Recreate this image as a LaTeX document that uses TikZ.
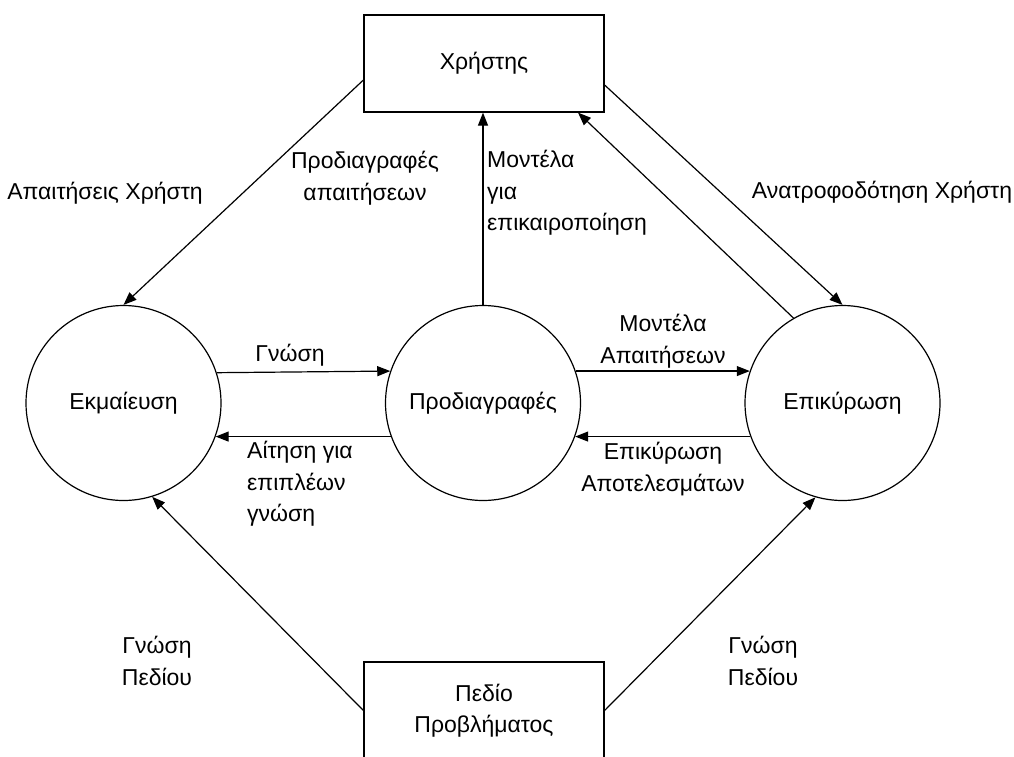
\documentclass[tikz,border=0pt]{standalone}
\usepackage{fontspec}
\setmainfont{Liberation Sans}
\usetikzlibrary{arrows.meta}
\begin{document}
\begin{tikzpicture}[x=1pt,y=-1pt,
  every node/.style={font=\fontsize{23}{31.5}\selectfont},
  proc/.style={draw,circle,line width=1.2pt,minimum size=195pt,inner sep=0pt},
  ent/.style={draw,rectangle,line width=1.2pt,minimum width=240pt,minimum height=97pt,inner sep=0pt,align=center},
  lbl/.style={inner sep=0pt,align=center},
  flow/.style={line width=1.2pt,-{Triangle[length=13pt,width=10pt]}}]
\clip (0,0) rectangle (1014,756);
\fill[white] (0,0) rectangle (1014,756);
% entities
\node[ent] (user) at (484,63.5) {Χρήστης};
\node[ent] (dom) at (484,710.5) {Πεδίο\\Προβλήματος};
% processes
\node[proc] (e) at (123.5,403) {Εκμαίευση};
\node[proc] (p) at (483,403) {Προδιαγραφές};
\node[proc] (v) at (842.5,403) {Επικύρωση};
% connectors
\draw[flow] ([yshift=-16.5pt]user.west) -- (e.90);
\draw[flow] (p.north) -- (p.north |- user.south);
\draw[flow] (v.120) -- ([xshift=94pt]user.south);
\draw[flow] ([yshift=-21.5pt]user.east) -- (v.90);
\draw[flow] (e.18.5) -- (p.161.5);
\draw[flow] (p.-160) -- (e.-20);
\draw[flow] (p.19) -- (v.161);
\draw[flow] (v.-160) -- (p.-20);
\draw[flow] (dom.west) -- (e.-73);
\draw[flow] (dom.east) -- (v.-106);
% labels
\node[lbl] (l1) at (105,193) {Απαιτήσεις Χρήστη};
\node[lbl] (l2) at (365,178) {Προδιαγραφές\\απαιτήσεων};
\node[lbl,align=left,anchor=west] (l3) at (487,193) {Μοντέλα\\για\\επικαιροποίηση};
\node[lbl] (l4) at (882,192) {Ανατροφοδότηση Χρήστη};
\node[lbl] (l5) at (290,355) {Γνώση};
\node[lbl,align=left,anchor=west] (l6) at (247,484) {Αίτηση για\\επιπλέων\\γνώση};
\node[lbl] (l7) at (663,341) {Μοντέλα\\Απαιτήσεων};
\node[lbl] (l8) at (663,469) {Επικύρωση\\Αποτελεσμάτων};
\node[lbl] (l9) at (157,661) {Γνώση\\Πεδίου};
\node[lbl] (l10) at (763,661) {Γνώση\\Πεδίου};
\end{tikzpicture}
\end{document}
